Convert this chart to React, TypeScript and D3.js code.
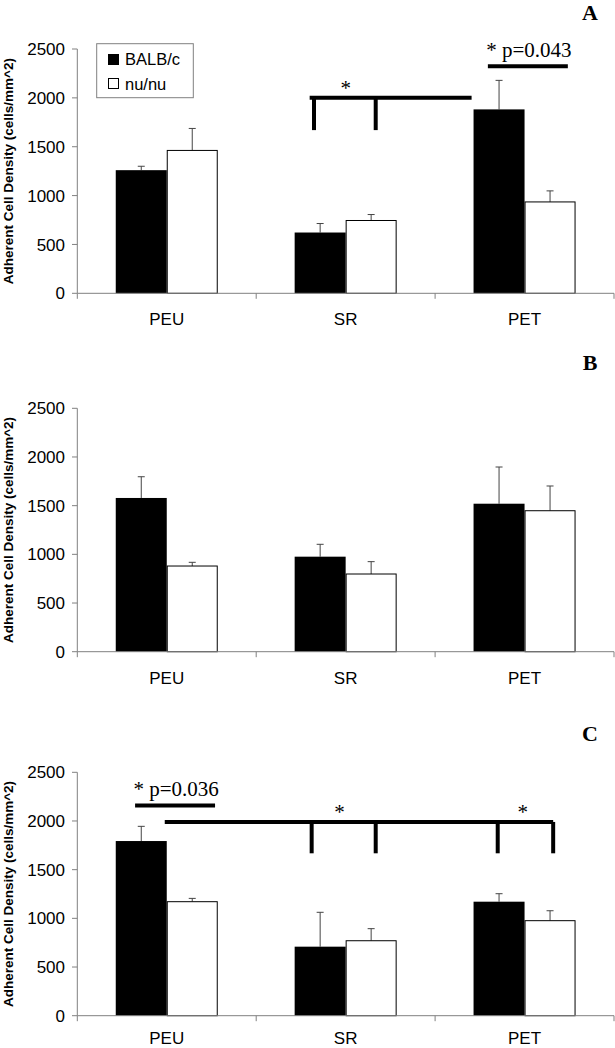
import React from "react";
import * as d3 from "d3";

const categories = ["PEU", "SR", "PET"];
const series = ["BALB/c", "nu/nu"];
const yTicks = [0, 500, 1000, 1500, 2000, 2500];

const A_balb = [1260, 622, 1882];
const A_balbErr = [40, 92, 297];
const A_nu = [1462, 745, 935];
const A_nuErr = [225, 61, 113];

const B_balb = [1579, 976, 1520];
const B_balbErr = [218, 127, 377];
const B_nu = [880, 798, 1448];
const B_nuErr = [38, 127, 254];

const C_balb = [1794, 709, 1171];
const C_balbErr = [151, 353, 82];
const C_nu = [1171, 770, 976];
const C_nuErr = [34, 124, 102];

// significance annotations: [category, fraction within band]
type Bracket = { from: [string, number]; to: [string, number]; y: number; drops: [string, number][]; dropTo: number; stars: [string, number][] };
type PLine = { from: [string, number]; to: [string, number]; y: number; label: string };

const A_brackets: Bracket[] = [
  { from: ["SR", 0.31], to: ["PET", 0.204], y: 2000, drops: [["SR", 0.323], ["SR", 0.668]], dropTo: 1670, stars: [["SR", 0.5]] },
];
const A_plines: PLine[] = [{ from: ["PET", 0.295], to: ["PET", 0.742], y: 2323, label: "* p=0.043" }];
const C_brackets: Bracket[] = [
  {
    from: ["PEU", 0.5], to: ["PET", 0.66], y: 1990,
    drops: [["SR", 0.31], ["SR", 0.668], ["PET", 0.35], ["PET", 0.66]], dropTo: 1668,
    stars: [["SR", 0.465], ["PET", 0.49]],
  },
];
const C_plines: PLine[] = [{ from: ["PEU", 0.323], to: ["PEU", 0.77], y: 2160, label: "* p=0.036" }];

const panels = [
  { label: "A", top: 49, bottom: 293.3, labelY: 19.5, catDy: 32, balb: A_balb, balbErr: A_balbErr, nu: A_nu, nuErr: A_nuErr, brackets: A_brackets, plines: A_plines, legend: true },
  { label: "B", top: 408.3, bottom: 651.7, labelY: 370, catDy: 32, balb: B_balb, balbErr: B_balbErr, nu: B_nu, nuErr: B_nuErr, brackets: [] as Bracket[], plines: [] as PLine[], legend: false },
  { label: "C", top: 772.3, bottom: 1015.7, labelY: 741, catDy: 28.5, balb: C_balb, balbErr: C_balbErr, nu: C_nu, nuErr: C_nuErr, brackets: C_brackets, plines: C_plines, legend: false },
];

const AX = "#808080";
const ERR = "#444";
const SANS = "Arial, 'Liberation Sans', Helvetica, sans-serif";
const SERIF = "'Times New Roman', 'Liberation Serif', serif";

const x = d3.scaleBand<string>().domain(categories).range([77.3, 614]).paddingInner(0).paddingOuter(0);
const xs = d3.scaleBand<string>().domain(series).range([0, x.bandwidth()]).paddingInner(0).paddingOuter(0.754);
const px = (c: [string, number]) => (x(c[0]) as number) + c[1] * x.bandwidth();

function Panel({ p }: { p: (typeof panels)[number] }) {
  const y = d3.scaleLinear().domain([0, 2500]).range([p.bottom, p.top]);
  const vals = [p.balb, p.nu];
  const errs = [p.balbErr, p.nuErr];
  const mid = (p.top + p.bottom) / 2;
  return (
    <g>
      {/* y axis */}
      <line x1={77.3} x2={77.3} y1={y(2500)} y2={y(0)} stroke={AX} strokeWidth={1} />
      {yTicks.map((t) => (
        <g key={t}>
          <line x1={72} x2={77.3} y1={y(t)} y2={y(t)} stroke={AX} strokeWidth={1} />
          <text x={65} y={y(t)} dy="0.36em" textAnchor="end" fontFamily={SANS} fontSize={17} fill="#000">
            {t}
          </text>
        </g>
      ))}
      <text transform={`translate(13,${mid}) rotate(-90)`} textAnchor="middle" fontFamily={SANS} fontWeight="bold" fontSize={13.5}>
        Adherent Cell Density (cells/mm^2)
      </text>
      {/* bars */}
      {series.map((s, si) =>
        categories.map((c, ci) => {
          const bx = (x(c) as number) + (xs(s) as number);
          const v = vals[si][ci];
          const e = errs[si][ci];
          const cx = bx + xs.bandwidth() / 2;
          return (
            <g key={s + c}>
              <line x1={cx} x2={cx} y1={y(v)} y2={y(v + e)} stroke={ERR} strokeWidth={1} />
              <line x1={cx - 3.5} x2={cx + 3.5} y1={y(v + e)} y2={y(v + e)} stroke={ERR} strokeWidth={1} />
              <rect
                x={si === 0 ? bx : bx + 0.5}
                y={y(v)}
                width={si === 0 ? xs.bandwidth() : xs.bandwidth() - 1}
                height={y(0) - y(v)}
                fill={si === 0 ? "#000" : "#fff"}
                stroke="#000"
                strokeWidth={si === 0 ? 0 : 1}
              />
            </g>
          );
        })
      )}
      {/* x axis */}
      <line x1={77.3} x2={614} y1={y(0)} y2={y(0)} stroke={AX} strokeWidth={1} />
      {[...categories.map((c) => x(c) as number), 614].map((tx, i) => (
        <line key={i} x1={tx} x2={tx} y1={y(0)} y2={y(0) + 5.5} stroke={AX} strokeWidth={1} />
      ))}
      {categories.map((c) => (
        <text key={c} x={(x(c) as number) + x.bandwidth() / 2} y={y(0) + p.catDy} textAnchor="middle" fontFamily={SANS} fontSize={17}>
          {c}
        </text>
      ))}
      {/* panel label */}
      <text x={590} y={p.labelY} textAnchor="middle" fontFamily={SERIF} fontWeight="bold" fontSize={22}>
        {p.label}
      </text>
      {/* brackets */}
      {p.brackets.map((b, i) => (
        <g key={i}>
          <line x1={px(b.from) - 2} x2={px(b.to)} y1={y(b.y)} y2={y(b.y)} stroke="#000" strokeWidth={4} />
          {b.drops.map((d, j) => (
            <line key={j} x1={px(d)} x2={px(d)} y1={y(b.y)} y2={y(b.dropTo)} stroke="#000" strokeWidth={4} />
          ))}
          {b.stars.map((s, j) => (
            <text key={j} x={px(s)} y={y(b.y) - 3} textAnchor="middle" fontFamily={SERIF} fontSize={21}>
              *
            </text>
          ))}
        </g>
      ))}
      {p.plines.map((l, i) => (
        <g key={i}>
          <line x1={px(l.from)} x2={px(l.to)} y1={y(l.y)} y2={y(l.y)} stroke="#000" strokeWidth={4} />
          <text x={(px(l.from) + px(l.to)) / 2 + 1} y={y(l.y) - 9} textAnchor="middle" fontFamily={SERIF} fontSize={21}>
            {l.label}
          </text>
        </g>
      ))}
      {/* legend */}
      {p.legend && (
        <g>
          <rect x={96.7} y={43.7} width={96.6} height={54} fill="#fff" stroke={AX} strokeWidth={1} />
          {series.map((s, i) => (
            <g key={s}>
              <rect x={108.5} y={54.5 + i * 24} width={10} height={10} fill={i === 0 ? "#000" : "#fff"} stroke="#000" strokeWidth={1} />
              <text x={125} y={65 + i * 24.5} fontFamily={SANS} fontSize={16.5}>
                {s}
              </text>
            </g>
          ))}
        </g>
      )}
    </g>
  );
}

export default function App() {
  return (
    <svg width={615} height={1048} style={{ position: "absolute", left: 0, top: 0, display: "block", background: "#fff" }}>
      <rect x={0} y={0} width={615} height={1048} fill="#fff" />
      {panels.map((p) => (
        <Panel key={p.label} p={p} />
      ))}
    </svg>
  );
}
